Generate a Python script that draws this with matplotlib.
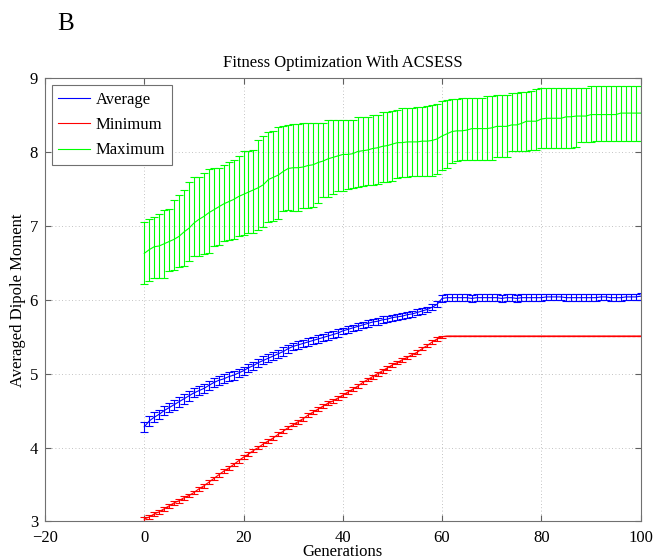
import numpy as np
import matplotlib
matplotlib.use("Agg")
import matplotlib.pyplot as plt
from matplotlib.lines import Line2D

plt.rcParams['font.family'] = ['Liberation Serif', 'DejaVu Serif']

generations = list(range(0, 101))

# Maximum (green): mean with lower / upper ends of the error bars
max_mean = [6.63, 6.68, 6.72, 6.73, 6.76, 6.79, 6.82, 6.86, 6.92, 6.97,
            7.04, 7.09, 7.13, 7.18, 7.22, 7.26, 7.30, 7.33, 7.36, 7.40,
            7.43, 7.46, 7.49, 7.52, 7.56, 7.63, 7.66, 7.69, 7.74, 7.78,
            7.79, 7.79, 7.80, 7.82, 7.83, 7.86, 7.88, 7.91, 7.93, 7.95,
            7.97, 7.97, 7.98, 8.01, 8.02, 8.03, 8.05, 8.06, 8.08, 8.09,
            8.11, 8.13, 8.13, 8.14, 8.14, 8.14, 8.15, 8.15, 8.16, 8.18,
            8.22, 8.25, 8.28, 8.29, 8.29, 8.30, 8.32, 8.32, 8.32, 8.32,
            8.33, 8.35, 8.35, 8.35, 8.37, 8.37, 8.39, 8.42, 8.42, 8.42,
            8.45, 8.46, 8.46, 8.46, 8.46, 8.48, 8.48, 8.49, 8.49, 8.49,
            8.51, 8.51, 8.51, 8.51, 8.51, 8.51, 8.53, 8.53, 8.53, 8.53,
            8.53]
max_hi = [7.05, 7.10, 7.12, 7.16, 7.22, 7.23, 7.35, 7.42, 7.49, 7.59,
          7.66, 7.67, 7.72, 7.77, 7.78, 7.79, 7.83, 7.87, 7.89, 7.95,
          8.01, 8.02, 8.03, 8.16, 8.22, 8.27, 8.29, 8.34, 8.36, 8.37,
          8.38, 8.38, 8.40, 8.40, 8.40, 8.40, 8.40, 8.43, 8.43, 8.43,
          8.43, 8.43, 8.43, 8.48, 8.48, 8.48, 8.50, 8.51, 8.54, 8.55,
          8.56, 8.57, 8.60, 8.60, 8.60, 8.61, 8.61, 8.63, 8.64, 8.66,
          8.70, 8.71, 8.72, 8.72, 8.73, 8.74, 8.74, 8.74, 8.74, 8.76,
          8.76, 8.77, 8.77, 8.78, 8.80, 8.80, 8.82, 8.82, 8.83, 8.85,
          8.87, 8.87, 8.87, 8.87, 8.87, 8.87, 8.87, 8.87, 8.87, 8.87,
          8.90, 8.90, 8.90, 8.90, 8.90, 8.90, 8.90, 8.90, 8.90, 8.90,
          8.90]
max_lo = [6.21, 6.25, 6.29, 6.29, 6.29, 6.39, 6.41, 6.45, 6.46, 6.52,
          6.59, 6.60, 6.62, 6.63, 6.73, 6.74, 6.80, 6.81, 6.83, 6.86,
          6.88, 6.90, 6.91, 6.95, 6.99, 7.06, 7.07, 7.09, 7.21, 7.22,
          7.21, 7.21, 7.25, 7.25, 7.26, 7.31, 7.39, 7.40, 7.43, 7.48,
          7.48, 7.50, 7.51, 7.53, 7.54, 7.56, 7.56, 7.57, 7.59, 7.60,
          7.61, 7.65, 7.66, 7.67, 7.68, 7.68, 7.68, 7.68, 7.68, 7.71,
          7.76, 7.79, 7.85, 7.88, 7.89, 7.89, 7.89, 7.90, 7.90, 7.90,
          7.90, 7.94, 7.94, 7.94, 8.01, 8.02, 8.02, 8.02, 8.03, 8.03,
          8.06, 8.06, 8.06, 8.06, 8.06, 8.06, 8.06, 8.07, 8.14, 8.14,
          8.14, 8.15, 8.15, 8.15, 8.15, 8.15, 8.15, 8.15, 8.15, 8.15,
          8.15]

# Average (blue)
avg_mean = [4.28, 4.36, 4.41, 4.45, 4.50, 4.54, 4.58, 4.62, 4.66, 4.70,
            4.74, 4.77, 4.80, 4.84, 4.88, 4.91, 4.93, 4.96, 4.98, 5.01,
            5.04, 5.08, 5.11, 5.15, 5.18, 5.21, 5.24, 5.27, 5.30, 5.34,
            5.37, 5.39, 5.41, 5.43, 5.45, 5.47, 5.49, 5.51, 5.53, 5.55,
            5.58, 5.60, 5.62, 5.64, 5.66, 5.68, 5.70, 5.71, 5.73, 5.74,
            5.76, 5.77, 5.78, 5.80, 5.81, 5.83, 5.85, 5.87, 5.90, 5.94,
            6.02, 6.03, 6.03, 6.03, 6.03, 6.03, 6.02, 6.03, 6.03, 6.03,
            6.03, 6.03, 6.02, 6.03, 6.03, 6.02, 6.03, 6.03, 6.03, 6.03,
            6.03, 6.04, 6.04, 6.04, 6.04, 6.03, 6.03, 6.03, 6.03, 6.03,
            6.03, 6.03, 6.04, 6.04, 6.03, 6.03, 6.03, 6.04, 6.04, 6.04,
            6.05]
avg_err = [0.07, 0.07, 0.07, 0.065, 0.065, 0.065, 0.065, 0.065, 0.065, 0.065,
           0.06, 0.06, 0.06, 0.06, 0.06, 0.06, 0.06, 0.06, 0.06, 0.06,
           0.055, 0.055, 0.055, 0.055, 0.055, 0.055, 0.055, 0.055, 0.055, 0.055,
           0.05, 0.05, 0.05, 0.05, 0.05, 0.05, 0.05, 0.05, 0.05, 0.05,
           0.045, 0.045, 0.045, 0.045, 0.045, 0.045, 0.045, 0.045, 0.045, 0.045,
           0.04, 0.04, 0.04, 0.04, 0.04, 0.04, 0.04, 0.04, 0.04, 0.04,
           0.045, 0.045, 0.045, 0.045, 0.045, 0.045, 0.045, 0.045, 0.045, 0.045,
           0.045, 0.045, 0.045, 0.045, 0.045, 0.045, 0.045, 0.045, 0.045, 0.045,
           0.045, 0.045, 0.045, 0.045, 0.045, 0.045, 0.045, 0.045, 0.045, 0.045,
           0.045, 0.045, 0.045, 0.045, 0.045, 0.045, 0.045, 0.045, 0.045, 0.045,
           0.045]

# Minimum (red)
min_mean = [3.03, 3.06, 3.10, 3.13, 3.17, 3.21, 3.25, 3.28, 3.32, 3.35,
            3.39, 3.44, 3.48, 3.53, 3.58, 3.63, 3.68, 3.72, 3.77, 3.82,
            3.87, 3.91, 3.96, 4.00, 4.05, 4.09, 4.13, 4.18, 4.22, 4.27,
            4.31, 4.35, 4.39, 4.44, 4.48, 4.52, 4.56, 4.60, 4.63, 4.67,
            4.71, 4.75, 4.79, 4.83, 4.88, 4.92, 4.96, 5.00, 5.04, 5.08,
            5.12, 5.15, 5.19, 5.22, 5.26, 5.29, 5.34, 5.38, 5.43, 5.47,
            5.50, 5.51, 5.51, 5.51, 5.51, 5.51, 5.51, 5.51, 5.51, 5.51,
            5.51, 5.51, 5.51, 5.51, 5.51, 5.51, 5.51, 5.51, 5.51, 5.51,
            5.51, 5.51, 5.51, 5.51, 5.51, 5.51, 5.51, 5.51, 5.51, 5.51,
            5.51, 5.51, 5.51, 5.51, 5.51, 5.51, 5.51, 5.51, 5.51, 5.51,
            5.51]
min_err = [0.025, 0.025, 0.025, 0.025, 0.025, 0.025, 0.025, 0.025, 0.025, 0.025,
           0.025, 0.025, 0.025, 0.025, 0.025, 0.025, 0.025, 0.025, 0.025, 0.025,
           0.025, 0.025, 0.025, 0.025, 0.025, 0.025, 0.025, 0.025, 0.025, 0.025,
           0.025, 0.025, 0.025, 0.025, 0.025, 0.025, 0.025, 0.025, 0.025, 0.025,
           0.025, 0.025, 0.025, 0.025, 0.025, 0.025, 0.025, 0.025, 0.025, 0.025,
           0.025, 0.025, 0.025, 0.025, 0.025, 0.025, 0.025, 0.025, 0.025, 0.025,
           0.01, 0, 0, 0, 0, 0, 0, 0, 0, 0,
           0, 0, 0, 0, 0, 0, 0, 0, 0, 0,
           0, 0, 0, 0, 0, 0, 0, 0, 0, 0,
           0, 0, 0, 0, 0, 0, 0, 0, 0, 0,
           0]

fig = plt.figure(figsize=(6.55, 5.6), dpi=100)
ax = fig.add_axes([0.0687, 0.069, 0.9093, 0.791])

lw = 0.8
ax.errorbar(generations, avg_mean, yerr=avg_err, color='#0000ff', lw=lw,
            elinewidth=lw, capsize=3, capthick=lw)
ax.errorbar(generations, min_mean, yerr=min_err, color='#ff0000', lw=lw,
            elinewidth=lw, capsize=3, capthick=lw)
g_mean = np.array(max_mean)
g_err = [g_mean - np.array(max_lo), np.array(max_hi) - g_mean]
ax.errorbar(generations, max_mean, yerr=g_err, color='#00ff00', lw=lw,
            elinewidth=lw, capsize=3, capthick=lw)

ax.set_xlim(-20, 100)
ax.set_ylim(3, 9)
ax.set_xticks([-20, 0, 20, 40, 60, 80, 100])
ax.set_yticks([3, 4, 5, 6, 7, 8, 9])
ax.grid(True, linestyle=(0, (1, 3)), color='#b0b0b0', linewidth=0.6)
ax.tick_params(direction='in', top=True, right=True, labelsize=12,
               length=4, color='#606060')
ax.tick_params(axis='x', pad=6)
ax.tick_params(axis='y', pad=5)
for s in ax.spines.values():
    s.set_color('#707070')
    s.set_linewidth(0.8)

ax.set_title('Fitness Optimization With ACSESS', fontsize=12, pad=8)
ax.set_xlabel('Generations', fontsize=12, labelpad=-1)
ax.set_ylabel('Averaged Dipole Moment', fontsize=12, labelpad=3)

handles = [Line2D([], [], color='#0000ff', lw=lw),
           Line2D([], [], color='#ff0000', lw=lw),
           Line2D([], [], color='#00ff00', lw=lw)]
leg = ax.legend(handles, ['Average', 'Minimum', 'Maximum'], loc='upper left',
                fontsize=12, fancybox=False, framealpha=1, handlelength=1.9,
                handletextpad=0.35, borderpad=0.4, labelspacing=0.56,
                borderaxespad=0.4)
leg.get_frame().set_edgecolor('#707070')
leg.get_frame().set_linewidth(0.8)

fig.text(0.087, 0.957, 'B', fontsize=18, ha='left', va='center')

fig.savefig('out.png', dpi=100)
